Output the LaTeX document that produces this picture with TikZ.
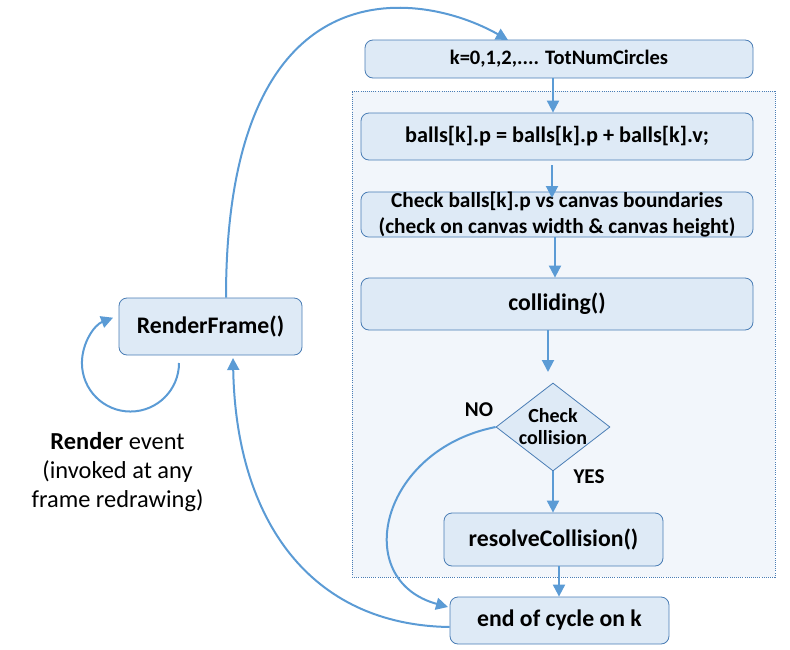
\documentclass[tikz,border=0pt]{standalone}
\usepackage{fontspec}
\setmainfont{Carlito}
\usetikzlibrary{shapes.geometric,arrows.meta}
\definecolor{boxfill}{HTML}{DEEAF6}
\definecolor{boxline}{HTML}{4A7DB5}
\definecolor{arrcol}{HTML}{5B9BD5}
\definecolor{regfill}{HTML}{F2F6FB}
\begin{document}
\begin{tikzpicture}[x=0.75pt,y=-0.75pt,
  stepbox/.style={draw=boxline,line width=0.6pt,fill=boxfill,rounded corners=6pt,inner sep=0pt,align=center,font=\bfseries\fontsize{16}{19.5}\selectfont},
  bigbox/.style={stepbox,font=\bfseries\fontsize{17.8}{20}\selectfont},
  decision/.style={draw=boxline,line width=0.6pt,fill=boxfill,diamond,inner sep=0pt},
  dectext/.style={align=center,inner sep=0pt,font=\bfseries\fontsize{15}{16.5}\selectfont},
  arr/.style={draw=arrcol,line width=1.5pt,-{Triangle[width=9pt,length=9pt]}},
  lbl/.style={font=\bfseries\fontsize{15.8}{18}\selectfont}]
\useasboundingbox (0,0) rectangle (790,650);
% region
\node[draw=boxline,densely dotted,line width=0.6pt,fill=regfill,minimum width=423pt*0.75,minimum height=486pt*0.75,inner sep=0pt] (region) at (563.5,334) {};
% boxes
\node[stepbox,font=\bfseries\fontsize{15.4}{18}\selectfont,minimum width=388*0.75pt,minimum height=38*0.75pt] (kbox) at (559,59) {k=0,1,2,.... TotNumCircles};
\node[stepbox,font=\bfseries\fontsize{16.7}{19}\selectfont,minimum width=392*0.75pt,minimum height=47*0.75pt] (balls) at (557,136.5) {balls[k].p = balls[k].p + balls[k].v;};
\node[stepbox,minimum width=392*0.75pt,minimum height=45*0.75pt] (check) at (557,214.5) {Check balls[k].p vs canvas boundaries\\(check on canvas width \& canvas height)};
\node[bigbox,minimum width=392*0.75pt,minimum height=52*0.75pt] (coll) at (557,304) {colliding()};
\node[decision,minimum width=114*0.75pt,minimum height=88*0.75pt] (dec) at (553,427) {};
\node[dectext] (dect) at (dec.center) {Check\\collision};
\node[bigbox,minimum width=219*0.75pt,minimum height=53*0.75pt] (resolve) at (553.5,539.5) {resolveCollision()};
\node[bigbox,minimum width=219*0.75pt,minimum height=47*0.75pt] (endk) at (559.5,620.5) {end of cycle on k};
\node[bigbox,minimum width=183*0.75pt,minimum height=57*0.75pt] (render) at (210.5,326.5) {RenderFrame()};
% labels
\node[lbl] (no) at (479,410) {NO};
\node[lbl] (yes) at (589,477) {YES};
\node[align=center,font=\fontsize{18.3}{22}\selectfont] (evt) at (117.5,472) {\textbf{Render} event\\(invoked at any\\frame redrawing)};
% straight arrows
\draw[arr] (kbox.south -| 553,0) -- (balls.north -| 553,0);
\draw[arr] (552,165) -- (552,198) coordinate (c1);
\draw[arr] (check.south -| 555,0) -- (coll.north -| 555,0);
\draw[arr] (coll.south -| 548,0) -- (548,372) coordinate (c2);
\draw[arr] (dec.south) -- (resolve.north -| dec.south);
\draw[arr] (resolve.south -| 559,0) -- (endk.north -| 559,0);
% curves
\coordinate (ts) at (226,298);
\draw[arr] (render.north -| ts) .. controls (226,-40) and (420,-10) .. (508,40);
\draw[arr] (endk.west |- 0,627) .. controls (310,625) and (236,520) .. (233,358);
\draw[arr] (dec.west) .. controls (380,450) and (350,580) .. (448,607);
\coordinate (ls) at (179,363);
\draw[arr] (ls) arc[start angle=0,end angle=-249,radius=36.4pt];
\end{tikzpicture}
\end{document}
